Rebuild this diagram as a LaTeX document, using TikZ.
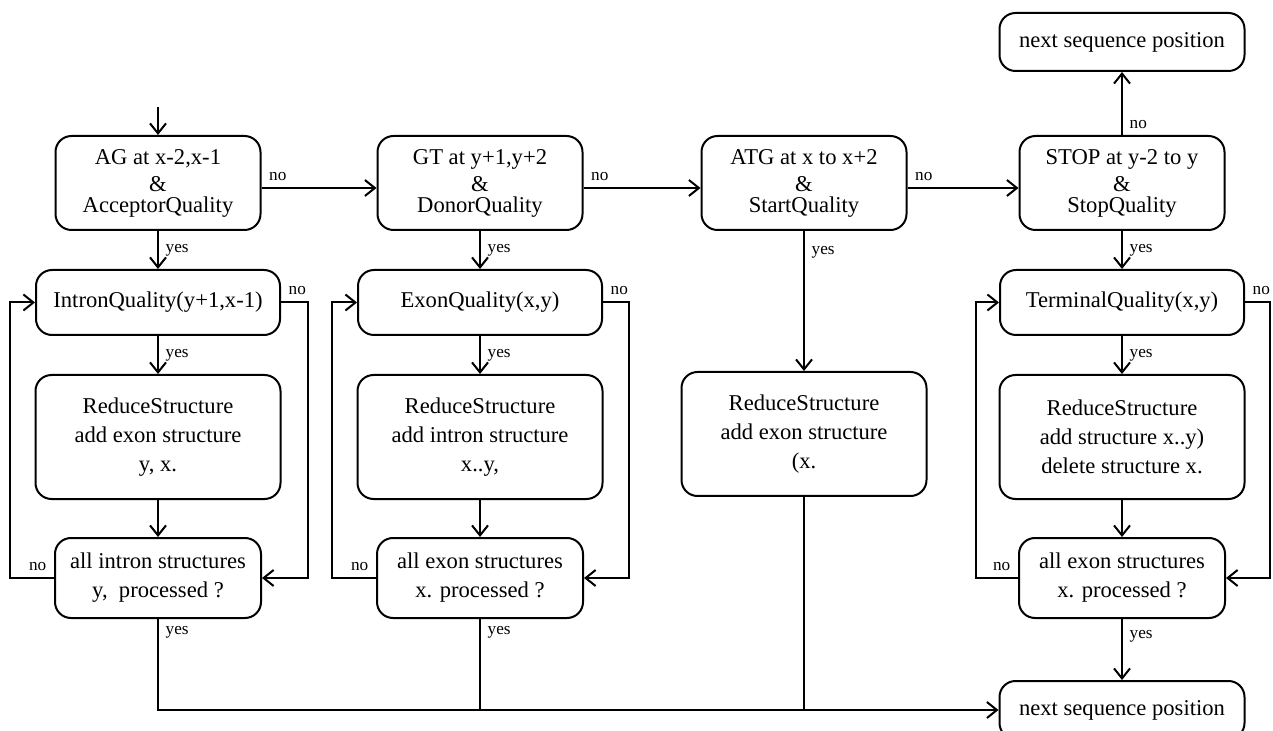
\documentclass[tikz,border=0pt]{standalone}
\usepackage{fontspec}
\setmainfont{Liberation Serif}
\usetikzlibrary{arrows.meta,positioning,calc}

\begin{document}
\begin{tikzpicture}[x=0.5pt, y=-0.5pt, line width=1pt, node distance=19pt,
  box/.style={draw, rounded corners=8pt, align=center, inner sep=0pt, font=\fontsize{11.3}{14.5}\selectfont},
  decision/.style={box, minimum width=102.5pt, minimum height=47pt},
  quality/.style={box, minimum width=122pt, minimum height=32.5pt},
  reduce/.style={box, minimum width=122.5pt, minimum height=62pt},
  check/.style={box, minimum width=103pt, minimum height=40pt},
  endbox/.style={box, minimum width=122.5pt, minimum height=29pt},
  lbl/.style={font=\fontsize{8.6}{10}\selectfont},
  arr/.style={-{Straight Barb[length=5pt,width=8pt]}}]
\useasboundingbox (0,0) rectangle (1273,731);
\coordinate (start) at (158,107);
\node[decision] (ag) at (158,183) {AG at x-2,x-1\\[-1pt] \&\\[-4pt] AcceptorQuality};
\node[decision] (gt) at (480,183) {GT at y+1,y+2\\[-1pt] \&\\[-4pt] DonorQuality};
\node[decision] (atg) at (804,183) {ATG at x to x+2\\[-1pt] \&\\[-4pt] StartQuality};
\node[decision] (stop) at (1122,183) {STOP at y-2 to y\\[-1pt] \&\\[-4pt] StopQuality};
\node[quality, below=of ag] (iq) {IntronQuality(y+1,x-1)};
\node[quality, below=of gt] (eq) {ExonQuality(x,y)};
\node[quality, below=of stop] (tq) {TerminalQuality(x,y)};
\node[reduce, below=of iq] (red1) {ReduceStructure\\ add exon structure\\ y, x.};
\node[reduce, below=of eq] (red2) {ReduceStructure\\ add intron structure\\ x..y,};
\node[reduce, below=70pt of atg] (red3) {ReduceStructure\\ add exon structure\\ (x.};
\node[reduce, below=of tq] (red4) {ReduceStructure\\ add structure x..y)\\ delete structure x.};
\node[check, below=18.5pt of red1] (chk1) {all intron structures\\ y,~ processed ?};
\node[check, below=18.5pt of red2] (chk2) {all exon structures\\ x. processed ?};
\node[check, below=18.5pt of red4] (chk4) {all exon structures\\ x. processed ?};
\node[endbox, above=31.5pt of stop] (next1) {next sequence position};
\node[endbox, below=30.5pt of chk4] (next2) {next sequence position};

\draw[arr] (start) -- (ag);
\draw[arr] ([yshift=-2.5pt]ag.east) -- node[lbl, anchor=south west, pos=0] {no} ([yshift=-2.5pt]gt.west);
\draw[arr] ([yshift=-2.5pt]gt.east) -- node[lbl, anchor=south west, pos=0] {no} ([yshift=-2.5pt]atg.west);
\draw[arr] ([yshift=-2.5pt]atg.east) -- node[lbl, anchor=south west, pos=0] {no} ([yshift=-2.5pt]stop.west);
\draw[arr] (stop) -- node[lbl, right, pos=0.16] {no} (next1);

\draw[arr] (ag) -- node[lbl, right] {yes} (iq);
\draw[arr] (iq) -- node[lbl, right] {yes} (red1);
\draw[arr] (red1) -- (chk1);
\draw[arr] (chk1.west) node[lbl, anchor=south east] {no} -| ($(iq.west)+(-25,0)$) -- (iq.west);
\draw[arr] (iq.east) node[lbl, anchor=south west] {no} -- ++(27,0) |- (chk1.east);

\draw[arr] (gt) -- node[lbl, right] {yes} (eq);
\draw[arr] (eq) -- node[lbl, right] {yes} (red2);
\draw[arr] (red2) -- (chk2);
\draw[arr] (chk2.west) node[lbl, anchor=south east] {no} -| ($(eq.west)+(-25,0)$) -- (eq.west);
\draw[arr] (eq.east) node[lbl, anchor=south west] {no} -- ++(26,0) |- (chk2.east);

\draw[arr] (atg) -- node[lbl, right, pos=0.15] {yes} (red3);

\draw[arr] (stop) -- node[lbl, right] {yes} (tq);
\draw[arr] (tq) -- node[lbl, right] {yes} (red4);
\draw[arr] (red4) -- (chk4);
\draw[arr] (chk4.west) node[lbl, anchor=south east] {no} -| ($(tq.west)+(-23,0)$) -- (tq.west);
\draw[arr] (tq.east) node[lbl, anchor=south west] {no} -- ++(25,0) |- (chk4.east);
\draw[arr] (chk4) -- node[lbl, right, pos=0.28] {yes} (next2);

\draw[arr] (chk1.south) node[lbl, anchor=north west] {yes} |- (next2.west);
\draw (chk2.south) node[lbl, anchor=north west] {yes} -- (chk2.south |- next2.west);
\draw (red3.south) -- (red3.south |- next2.west);
\end{tikzpicture}
\end{document}
